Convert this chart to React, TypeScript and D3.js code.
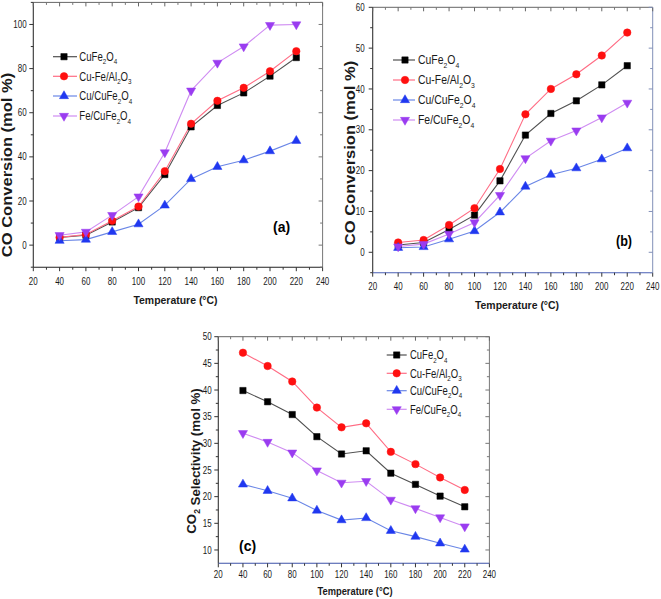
import React from 'react';
import * as d3 from 'd3';

// ---------- data ----------
const temps = [40, 60, 80, 100, 120, 140, 160, 180, 200, 220];
const seriesNames = ['CuFe2O4', 'Cu-Fe/Al2O3', 'Cu/CuFe2O4', 'Fe/CuFe2O4'];

// (a) CO conversion
const convA_CuFe2O4 = [3.5, 4.5, 10.5, 17, 32, 53.6, 63.3, 69, 76.6, 85];
const convA_CuFeAl2O3 = [3.5, 4.8, 11, 17.5, 33.5, 55, 65.4, 71.3, 78.8, 87.9];
const convA_CuCuFe2O4 = [2, 2.5, 6, 9.5, 18, 30, 35.5, 38.5, 42.6, 47.3];
const convA_FeCuFe2O4 = [4.5, 6, 13.6, 22, 42, 70, 82.6, 90, 99.7, 100];

// (b) CO conversion
const convB_CuFe2O4 = [1.8, 2.4, 5.6, 9.1, 17.5, 28.7, 34, 37.1, 41, 45.7];
const convB_CuFeAl2O3 = [2.4, 3.0, 6.7, 10.8, 20.4, 33.8, 40, 43.6, 48.2, 53.8];
const convB_CuCuFe2O4 = [1.1, 1.3, 3.2, 5.2, 9.8, 16.1, 19, 20.6, 22.8, 25.5];
const convB_FeCuFe2O4 = [1.4, 2.0, 4.5, 7.3, 14, 23, 27.3, 29.8, 33, 36.6];

// (c) CO2 selectivity
const selC_CuFe2O4 = [39.9, 37.8, 35.4, 31.25, 28, 28.6, 24.4, 22.3, 20.1, 18.1];
const selC_CuFeAl2O3 = [47, 44.5, 41.6, 36.7, 33, 33.75, 28.4, 26.1, 23.6, 21.25];
const selC_CuCuFe2O4 = [22.3, 21.1, 19.7, 17.4, 15.6, 16, 13.6, 12.5, 11.25, 10.1];
const selC_FeCuFe2O4 = [31.9, 30.25, 28.25, 24.9, 22.6, 22.9, 19.4, 17.8, 16.1, 14.4];

const xTicks = d3.range(20, 241, 20);
const xMinorTicks = d3.range(30, 240, 20);

// ---------- styles ----------
const lineColors = ['#505050', '#ff6c84', '#6a86e6', '#cf8cf2'];
const markerColors = ['#000000', '#ff1010', '#2038f0', '#9a3cf0'];
const markerShapes = ['square', 'circle', 'triangle', 'triangleDown'];
const FONT = "'Liberation Sans', Arial, Helvetica, sans-serif";

function formulaSpans(str: string, size: number) {
  const parts: { t: string; sub: boolean }[] = [];
  for (const ch of str) {
    const sub = /[0-9]/.test(ch);
    const last = parts[parts.length - 1];
    if (last && last.sub === sub) last.t += ch;
    else parts.push({ t: ch, sub });
  }
  let prevSub = false;
  return parts.map((p, i) => {
    let dy = 0;
    if (p.sub && !prevSub) dy = size * 0.28;
    if (!p.sub && prevSub) dy = -size * 0.28;
    prevSub = p.sub;
    return (
      <tspan key={i} dy={dy} fontSize={p.sub ? size * 0.65 : size}>
        {p.t}
      </tspan>
    );
  });
}

function CText(props: any) {
  const { x, y, sx = 1, sy = 1, rot = 0, size, weight = 'normal', anchor = 'start', fill = '#1a1a1a', children } = props;
  return (
    <g transform={`translate(${x},${y}) rotate(${rot}) scale(${sx},${sy})`}>
      <text x={0} y={0} fontSize={size} fontWeight={weight} textAnchor={anchor} fontFamily={FONT} fill={fill}>
        {children}
      </text>
    </g>
  );
}

function Marker({ shape, x, y, color }: any) {
  let d: string | null = null;
  let rot = 0;
  if (shape === 'square') d = d3.symbol(d3.symbolSquare, 40)();
  if (shape === 'circle') d = d3.symbol(d3.symbolCircle, 44)();
  if (shape === 'triangle') d = d3.symbol(d3.symbolTriangle, 36)();
  if (shape === 'triangleDown') {
    d = d3.symbol(d3.symbolTriangle, 36)();
    rot = 180;
  }
  return <path d={d || ''} transform={`translate(${x},${y}) rotate(${rot})`} fill={color} stroke={color} strokeWidth={0.5} />;
}

function Panel(cfg: any) {
  const x = d3.scaleLinear().domain([20, 240]).range(cfg.xRange);
  const y = d3.scaleLinear().domain(cfg.yDomain).range(cfg.yRange);
  const [x0, x1] = cfg.xRange;
  const [yb, yt] = cfg.yRange;
  const line = d3
    .line<number>()
    .x((_, i) => x(temps[i]))
    .y((v) => y(v));
  const yMajor = cfg.yMajor;
  const yMinor = cfg.yMinor;
  return (
    <g>
      {/* frame */}
      <line x1={x0} x2={x1} y1={yt} y2={yt} stroke="#666" strokeWidth={1} />
      <line x1={x1} x2={x1} y1={yt} y2={yb} stroke={cfg.rightColor} strokeWidth={1} />
      <line x1={x0} x2={x0} y1={yt} y2={yb} stroke="#333" strokeWidth={1.1} />
      <line x1={x0} x2={x1} y1={yb} y2={yb} stroke={cfg.bottomColor} strokeWidth={1.1} />
      {/* x ticks */}
      {xTicks.map((t) => (
        <g key={'xt' + t}>
          <line x1={x(t)} x2={x(t)} y1={yb} y2={yb + 4} stroke="#333" />
          <line x1={x(t)} x2={x(t)} y1={yt} y2={yt + 4} stroke="#666" />
          <CText x={x(t)} y={yb + cfg.xLabelOffset} size={10} sx={0.8} anchor="middle">
            {t}
          </CText>
        </g>
      ))}
      {xMinorTicks.map((t) => (
        <g key={'xm' + t}>
          <line x1={x(t)} x2={x(t)} y1={yb} y2={yb + 2.5} stroke="#333" />
          <line x1={x(t)} x2={x(t)} y1={yt} y2={yt + 2.5} stroke="#777" />
        </g>
      ))}
      {/* y ticks */}
      {yMajor.map((t: number) => (
        <g key={'yt' + t}>
          <line x1={x0 - 4} x2={x0} y1={y(t)} y2={y(t)} stroke="#333" />
          <line x1={x1 - 4} x2={x1} y1={y(t)} y2={y(t)} stroke={cfg.rightColor} />
          <CText x={x0 - cfg.yLabelGap} y={y(t) + 3.6} size={10} sx={0.8} anchor="end">
            {t}
          </CText>
        </g>
      ))}
      {yMinor.map((t: number) => (
        <g key={'ym' + t}>
          <line x1={x0 - 2.5} x2={x0} y1={y(t)} y2={y(t)} stroke="#333" />
          <line x1={x1 - 2.5} x2={x1} y1={y(t)} y2={y(t)} stroke={cfg.rightColor} />
        </g>
      ))}
      {/* axis titles */}
      <CText x={cfg.yTitle[0]} y={cfg.yTitle[1]} rot={-90} sx={cfg.yTitle[2]} size={cfg.yTitle[3]} weight="bold" anchor="middle">
        {cfg.yTitleParts}
      </CText>
      <CText x={cfg.xTitle[0]} y={cfg.xTitle[1]} sx={cfg.xTitle[2]} size={cfg.xTitle[3]} weight="bold" anchor="middle">
        Temperature (°C)
      </CText>
      {/* series */}
      {cfg.series.map((vals: number[], si: number) => (
        <path key={'l' + si} d={line(vals) || ''} fill="none" stroke={lineColors[si]} strokeWidth={1.1} />
      ))}
      {cfg.series.map((vals: number[], si: number) => (
        <g key={'m' + si}>
          {vals.map((v, i) => (
            <Marker key={i} shape={markerShapes[si]} x={x(temps[i])} y={y(v)} color={markerColors[si]} />
          ))}
        </g>
      ))}
      {/* legend */}
      {seriesNames.map((n, si) => {
        const ly = cfg.legend.rows[si];
        return (
          <g key={'lg' + si}>
            <line x1={cfg.legend.x0} x2={cfg.legend.x1} y1={ly} y2={ly} stroke={lineColors[si]} strokeWidth={1.2} />
            <Marker shape={markerShapes[si]} x={cfg.legend.xm} y={ly} color={markerColors[si]} />
            <CText x={cfg.legend.xt} y={ly + 4.3} size={12} sx={cfg.legend.sx}>
              {formulaSpans(n, 12)}
            </CText>
          </g>
        );
      })}
      {/* panel letter */}
      <CText x={cfg.letter[0]} y={cfg.letter[1]} sx={cfg.letter[2]} size={14} weight="bold" fill="#000">
        {cfg.letterText}
      </CText>
    </g>
  );
}

export default function App() {
  const panels = [
    {
      xRange: [33.3, 322.6],
      yDomain: [-10, 110],
      yRange: [267.2, 2.4],
      yMajor: d3.range(0, 101, 20),
      yMinor: d3.range(-10, 111, 20),
      xLabelOffset: 17.5,
      yLabelGap: 6.7,
      rightColor: '#777',
      bottomColor: '#222',
      yTitle: [12, 165, 1.18, 14],
      yTitleParts: 'CO Conversion (mol %)',
      xTitle: [175.5, 304, 0.91, 11.5],
      series: [convA_CuFe2O4, convA_CuFeAl2O3, convA_CuCuFe2O4, convA_FeCuFe2O4],
      legend: { x0: 53, x1: 77, xm: 64, xt: 79.3, sx: 0.8, rows: [56.7, 76.3, 96, 116] },
      letter: [273, 232, 1],
      letterText: '(a)',
    },
    {
      xRange: [372.7, 652.7],
      yDomain: [-5, 60],
      yRange: [272.7, 7.3],
      yMajor: d3.range(0, 61, 10),
      yMinor: d3.range(-5, 60, 10),
      xLabelOffset: 17.3,
      yLabelGap: 8,
      rightColor: '#8290b8',
      bottomColor: '#4a5fb5',
      yTitle: [355, 153, 1.18, 14],
      yTitleParts: 'CO Conversion (mol %)',
      xTitle: [517, 308.5, 0.91, 11.5],
      series: [convB_CuFe2O4, convB_CuFeAl2O3, convB_CuCuFe2O4, convB_FeCuFe2O4],
      legend: { x0: 393, x1: 415, xm: 405, xt: 418, sx: 0.87, rows: [60, 80, 100, 120] },
      letter: [616, 246, 0.9],
      letterText: '(b)',
    },
    {
      xRange: [218.3, 489.4],
      yDomain: [7.5, 50],
      yRange: [563.3, 336.7],
      yMajor: d3.range(10, 51, 5),
      yMinor: d3.range(12.5, 50, 5),
      xLabelOffset: 14.2,
      yLabelGap: 6.7,
      rightColor: '#777',
      bottomColor: '#3d52a8',
      yTitle: [196, 461, 1.02, 13],
      yTitleParts: formulaSpans('CO2', 13).concat([<tspan key="rest" fontSize={13}>{' Selectivity (mol %)'}</tspan>]),
      xTitle: [355, 595, 0.85, 11],
      series: [selC_CuFe2O4, selC_CuFeAl2O3, selC_CuCuFe2O4, selC_FeCuFe2O4],
      legend: { x0: 386.7, x1: 406.7, xm: 396.7, xt: 410, sx: 0.79, rows: [355, 373.3, 390.7, 409.3] },
      letter: [239, 551, 1],
      letterText: '(c)',
    },
  ];
  return (
    <svg width={661} height={599} style={{ position: 'absolute', left: 0, top: 0, background: '#fff' }}>
      <rect width={661} height={599} fill="#fff" />
      {panels.map((p, i) => (
        <Panel key={i} {...p} />
      ))}
    </svg>
  );
}
